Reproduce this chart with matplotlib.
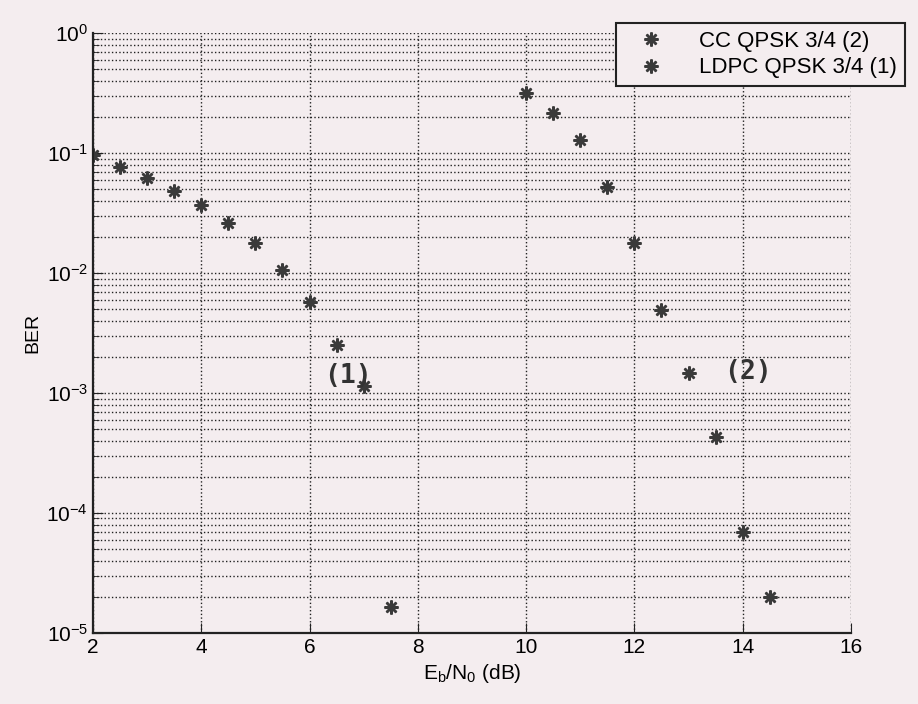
import matplotlib.pyplot as plt
import numpy as np

# LDPC QPSK 3/4 (1)
ebn0_ldpc = [2, 2.5, 3, 3.5, 4, 4.5, 5, 5.5, 6, 6.5, 7, 7.5]
ber_ldpc = [0.096, 0.076, 0.062, 0.048, 0.037, 0.026, 0.0178, 0.0106,
            0.0057, 0.0025, 0.00115, 1.66e-5]

# CC QPSK 3/4 (2)
ebn0_cc = [10, 10.5, 11, 11.5, 12, 12.5, 13, 13.5, 14, 14.5]
ber_cc = [0.316, 0.215, 0.128, 0.052, 0.0178, 0.0049, 0.00147, 0.00043,
          6.9e-5, 2.0e-5]

xticks = [2, 4, 6, 8, 10, 12, 14, 16]

bg = '#f4edef'
plt.rcParams['font.family'] = ['Liberation Sans', 'DejaVu Sans']

fig = plt.figure(figsize=(9.18, 7.04), dpi=100, facecolor=bg)
ax = fig.add_axes([0.1013, 0.1009, 0.8257, 0.852])
ax.set_facecolor(bg)

# asterisk type marker like matlab '*'
star = (8, 2, 0)
ax.plot(ebn0_cc, ber_cc, linestyle='none', marker=star, markersize=10,
        markeredgewidth=1.8, color='#3a3a3a', label='CC QPSK 3/4 (2)')
ax.plot(ebn0_ldpc, ber_ldpc, linestyle='none', marker=star, markersize=10,
        markeredgewidth=1.8, color='#3a3a3a', label='LDPC QPSK 3/4 (1)')

ax.set_yscale('log')
ax.set_xlim(2, 16)
ax.set_ylim(1e-5, 1)
ax.set_xticks(xticks)
ax.set_xticklabels([str(t) for t in xticks])

ax.grid(True, which='major', linestyle=':', color='#222222', linewidth=1.0)
ax.grid(True, which='minor', axis='y', linestyle=':', color='#222222', linewidth=1.0)
ax.tick_params(which='both', direction='in', top=False, right=False,
               labelsize=15, color='#222222')
ax.tick_params(which='major', length=7)
ax.tick_params(which='minor', length=4)
for s in ax.spines.values():
    s.set_linewidth(1.6)
    s.set_color('#222222')
ax.spines['top'].set_visible(False)
ax.spines['right'].set_visible(False)

ax.set_xlabel('E$_\\mathregular{b}$/N$_\\mathregular{0}$ (dB)', fontsize=15, labelpad=4)
ax.set_ylabel('BER', fontsize=14, labelpad=4)

ax.text(6.71, 0.0014, '(1)', fontsize=19, fontweight='bold',
        family='DejaVu Sans Mono', color='#333333', ha='center', va='center')
ax.text(14.1, 0.0015, '(2)', fontsize=19, fontweight='bold',
        family='DejaVu Sans Mono', color='#333333', ha='center', va='center')

leg = ax.legend(loc='upper right', bbox_to_anchor=(0.998, 0.983),
                bbox_transform=fig.transFigure, fontsize=16, frameon=True,
                fancybox=False, edgecolor='#222222', facecolor=bg,
                framealpha=1, borderpad=0.35, handletextpad=1.0,
                labelspacing=0.25, handlelength=2.4)
leg.get_frame().set_linewidth(1.5)

fig.savefig('out.png', dpi=100, facecolor=bg)
